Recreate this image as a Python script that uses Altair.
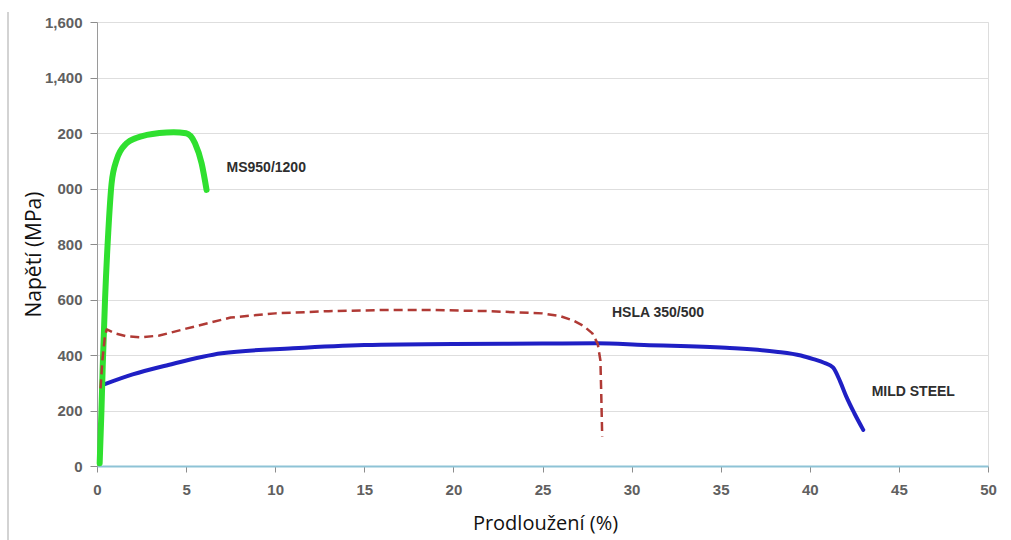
import altair as alt
import pandas as pd

# MS950/1200 (green)
green_x = [0.15, 0.25, 0.32, 0.45, 0.63, 0.82, 1.1, 1.66, 2.2, 2.8, 3.5, 4.3, 5.0, 5.5, 5.87, 6.15]
green_y = [10, 200, 358, 598, 840, 1019, 1103, 1163, 1182, 1193, 1200, 1203, 1199, 1163, 1091, 995]

# HSLA 350/500 (red dashed)
red_x = [0.2, 0.3, 0.45, 0.55, 1.0, 1.6, 2.45, 3.5, 5.0, 7.5, 10.0, 13.0, 16.0, 19.0, 22.0, 25.0,
         26.0, 26.7, 27.3, 27.8, 28.1, 28.25, 28.3, 28.35]
red_y = [280, 380, 470, 492, 478, 468, 464, 470, 495, 535, 550, 558, 562, 562, 558, 550,
         540, 525, 505, 478, 440, 380, 250, 106]

# MILD STEEL (blue)
blue_x = [0.4, 2.0, 4.0, 7.0, 11.0, 15.0, 20.0, 25.0, 28.0, 30.7, 35.3, 38.1, 39.5, 40.2, 40.8,
          41.3, 41.7, 42.05, 42.5, 43.0]
blue_y = [294, 330, 364, 406, 424, 436, 440, 441, 442, 436, 426, 412, 398, 385, 372,
          355, 305, 250, 190, 130]

label_text = ["MS950/1200", "HSLA 350/500", "MILD STEEL"]
label_x = [7.27, 28.9, 43.47]
label_y = [1074, 553, 268]

x_ticks = [0, 5, 10, 15, 20, 25, 30, 35, 40, 45, 50]
y_ticks = [0, 200, 400, 600, 800, 1000, 1200, 1400, 1600]


def frame(xs, ys):
    return pd.DataFrame({"x": xs, "y": ys, "i": list(range(len(xs)))})


x_scale = alt.Scale(domain=[0, 50], nice=False, zero=False)
y_scale = alt.Scale(domain=[0, 1600], nice=False)

x_axis = alt.Axis(
    values=x_ticks, title="Prodloužení (%)", grid=False, labelFlush=False,
    domainColor="#8ec3d6", domainWidth=2, tickColor="#8c8c8c", tickSize=6,
    labelPadding=10, labelFontSize=15, labelFont="Liberation Sans", labelFontWeight="bold",
    labelColor="#606060", titleFont="Open Sans", titleFontSize=20, titleFontWeight="normal",
    titleColor="#111111", titleX=448, titleY=57, titleBaseline="middle", titleAlign="center",
)
y_axis = alt.Axis(
    values=y_ticks, title="Napětí (MPa)", grid=True, gridColor="#dedede", gridWidth=1,
    labelFlush=False,
    domainColor="#9a9a9a", tickColor="#8c8c8c", tickSize=7, labelPadding=8,
    labelFontSize=15, labelFont="Liberation Sans", labelFontWeight="bold", labelColor="#606060",
    labelExpr="datum.value == 1200 ? '200' : datum.value == 1000 ? '000' : format(datum.value, ',')",
    titleFont="Open Sans", titleFontSize=21, titleFontWeight="normal", titleColor="#111111",
    titleX=-63, titleY=232, titleAngle=-90, titleAlign="center", titleBaseline="middle",
)

base_grid = alt.Chart(pd.DataFrame({"x": [0], "y": [0]})).mark_point(opacity=0).encode(
    x=alt.X("x:Q", scale=x_scale, axis=x_axis),
    y=alt.Y("y:Q", scale=y_scale, axis=y_axis),
)


def line(xs, ys, color, width, dash=None):
    kw = dict(color=color, strokeWidth=width, strokeCap="round", strokeJoin="round", interpolate="monotone")
    if dash:
        kw["strokeDash"] = dash
        kw["strokeCap"] = "butt"
        kw["interpolate"] = "linear"
    return alt.Chart(frame(xs, ys)).mark_line(**kw).encode(
        x=alt.X("x:Q", scale=x_scale),
        y=alt.Y("y:Q", scale=y_scale),
        order="i:Q",
    )


blue = line(blue_x, blue_y, "#1f1fc4", 4)
red = line(red_x, red_y, "#b03a35", 2.5, dash=[9, 5])
green = line(green_x, green_y, "#2fe02f", 6)

labels = alt.Chart(pd.DataFrame({"t": label_text, "x": label_x, "y": label_y})).mark_text(
    align="left", baseline="middle", fontSize=14, fontWeight="bold", font="Liberation Sans",
    color="#2e2e2e",
).encode(
    x=alt.X("x:Q", scale=x_scale),
    y=alt.Y("y:Q", scale=y_scale),
    text="t:N",
)

outer = alt.Chart(pd.DataFrame({"a": [0]})).mark_rule(color="#c4c4c4", strokeWidth=1.5).encode(
    x=alt.value(-89), y=alt.value(-10), y2=alt.value(520)
)

chart = alt.layer(base_grid, blue, green, red, labels, outer).properties(
    width=891, height=444,
    padding={"left": 97, "top": 22, "right": 23, "bottom": 74},
    autosize=alt.AutoSizeParams(type="none"),
).configure_view(stroke="#9a9a9a", strokeWidth=1.5).configure(background="white")

chart.save("out.html", embed_options={"renderer": "svg", "actions": False})
